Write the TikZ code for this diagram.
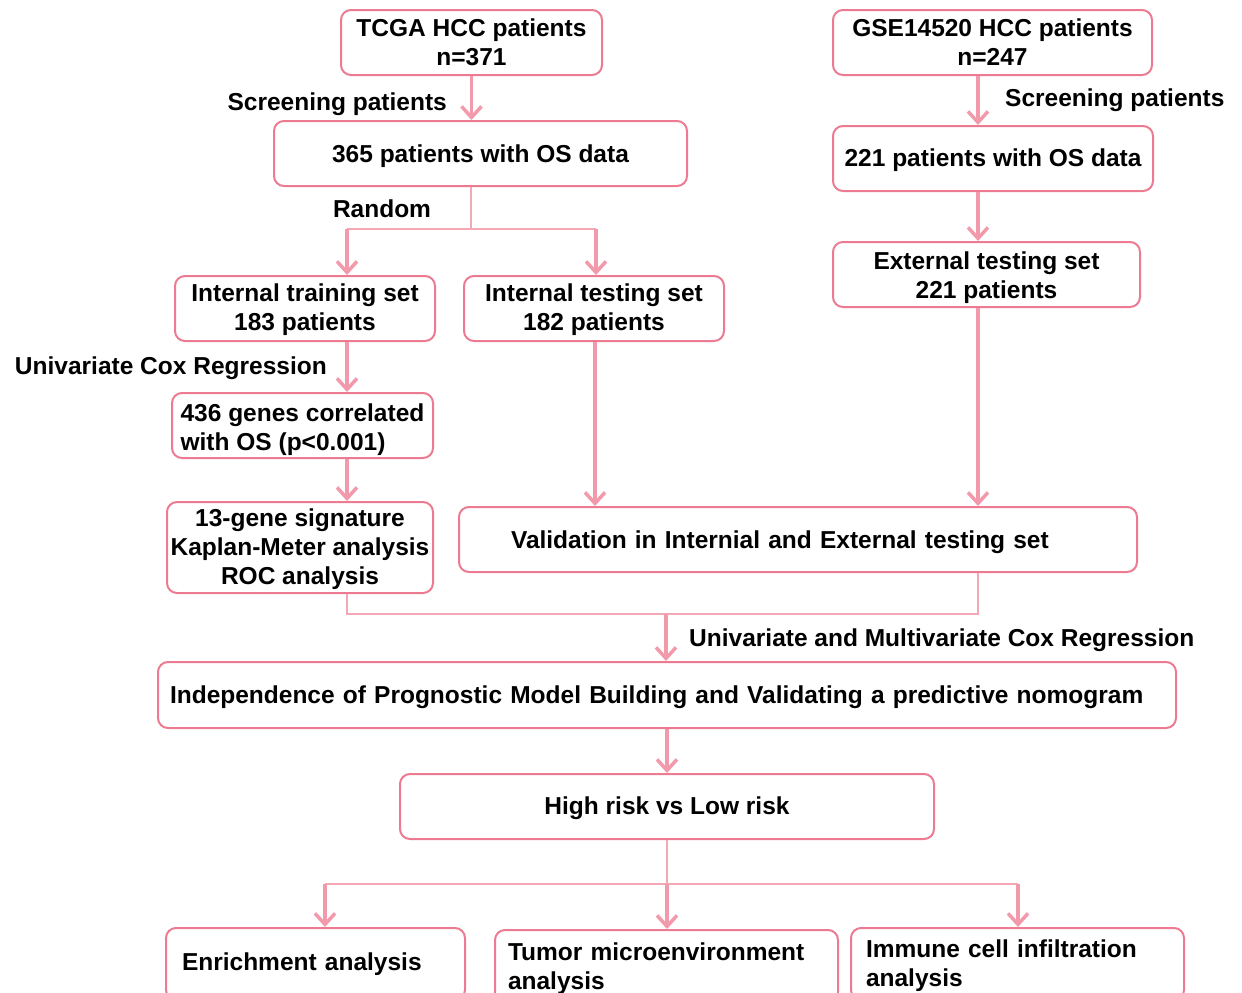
\documentclass[tikz,border=0pt]{standalone}
\usepackage{fontspec}
\setmainfont{Liberation Sans}
\usetikzlibrary{arrows.meta}
\definecolor{boxc}{HTML}{EC7A90}
\definecolor{arrc}{HTML}{F29AAB}
\definecolor{thinc}{HTML}{F4A8B6}
\newcommand\dn[1]{\rule{0pt}{\dimexpr 18pt+#1pt*2\relax}}
\tikzset{
  box/.style={draw=boxc, line width=2pt, rounded corners=10pt, inner sep=0pt,
    font=\fontsize{24.5}{29}\selectfont\bfseries, align=center},
  arr/.style={draw=arrc, line width=3.5pt,
    -{Straight Barb[length=11pt,width=20pt,line width=3.5pt]}},
  thin/.style={draw=thinc, line width=1.6pt},
  lbl/.style={font=\fontsize{24.5}{29}\selectfont\bfseries, inner sep=0pt}
}
\begin{document}
\begin{tikzpicture}[x=1pt,y=-1pt]
\useasboundingbox (0,0) rectangle (1242,993);
\clip (0,0) rectangle (1242,993);
% boxes
\node[box, minimum width=261pt, minimum height=65pt] (tcga) at (471.5,42.5) {TCGA HCC patients\\n=371};
\node[box, minimum width=319pt, minimum height=65pt] (gse) at (992.5,42.5) {GSE14520 HCC patients\\n=247};
\node[box, minimum width=413pt, minimum height=65pt] (os365) at (480.5,153.5) {\dn{3}365 patients with OS data};
\node[box, minimum width=320pt, minimum height=65pt] (os221) at (993,158.5) {\dn{2}221 patients with OS data};
\node[box, minimum width=307pt, minimum height=65pt] (ext) at (986.5,274.5) {\dn{3}External testing set\\221 patients};
\node[box, minimum width=260pt, minimum height=65pt] (train) at (305,308.5) {\dn{1.5}Internal training set\\183 patients};
\node[box, minimum width=260pt, minimum height=65pt] (itest) at (594,308.5) {\dn{1.5}Internal testing set\\182 patients};
\node[box, minimum width=261pt, minimum height=65pt, align=left] (genes) at (302.5,425.5) {\dn{4.5}436 genes correlated\\with OS (p<0.001)};
\node[box, minimum width=266pt, minimum height=91pt] (sig) at (300,547.5) {\dn{1.5}13-gene signature\\Kaplan-Meter analysis\\ROC analysis};
\node[box, minimum width=678pt, minimum height=65pt, text width=574pt, align=left, inner xsep=52pt] (valid) at (798,539.5) {\dn{3}Validation in Internial and External testing set};
\node[box, minimum width=1018pt, minimum height=66pt, text width=994pt, align=left, inner xsep=12pt] (indep) at (667,695) {\dn{2}Independence of Prognostic Model Building and Validating a predictive nomogram};
\node[box, minimum width=534pt, minimum height=65pt] (risk) at (667,806.5) {\dn{2}High risk vs Low risk};
\node[box, minimum width=299pt, minimum height=72pt, text width=267pt, align=left, inner xsep=16pt] (enr) at (315.5,964) {Enrichment analysis};
\node[box, minimum width=343pt, minimum height=72pt, text width=317pt, align=left, inner xsep=13pt] (tme) at (666.5,966) {\dn{3}Tumor microenvironment\\analysis};
\node[box, minimum width=333pt, minimum height=72pt, text width=303pt, align=left, inner xsep=15pt] (imm) at (1017.5,964) {\dn{2}Immune cell infiltration\\analysis};
% labels
\node[lbl, anchor=east] (l1) at (447,104) {Screening patients};
\node[lbl, anchor=west] (l2) at (1005,100) {Screening patients};
\node[lbl] (l3) at (382,209) {Random};
\node[lbl, anchor=east] (l4) at (327,368) {Univariate Cox Regression};
\node[lbl, anchor=west] (l5) at (689,640) {Univariate and Multivariate Cox Regression};
% coordinates
\coordinate (r0) at (471,229);
\coordinate (rl) at (347,229);
\coordinate (rr) at (596,229);
\coordinate (m1) at (347,614);
\coordinate (m2) at (978,614);
\coordinate (mc) at (666,614);
\coordinate (b0) at (667,884);
\coordinate (bl) at (325,884);
\coordinate (bm) at (667,884);
\coordinate (br) at (1018,884);
% connectors
\draw[arr] (tcga.south) -- (tcga.south |- os365.north);
\draw[arr] (978,0 |- gse.south) -- (978,0 |- os221.north);
\draw[thin] (os365.south -| r0) -- (r0);
\draw[thin] (rl) -- (rr);
\draw[arr] (rl) -- (rl |- train.north);
\draw[arr] (rr) -- (rr |- itest.north);
\draw[arr] (978,0 |- os221.south) -- (978,0 |- ext.north);
\draw[arr] (347,0 |- train.south) -- (347,0 |- genes.north);
\draw[arr] (347,0 |- genes.south) -- (347,0 |- sig.north);
\draw[arr] (595,0 |- itest.south) -- (595,0 |- valid.north);
\draw[arr] (978,0 |- ext.south) -- (978,0 |- valid.north);
\draw[thin] (347,0 |- sig.south) -- (m1) -- (m2) -- (978,0 |- valid.south);
\draw[arr] (mc) -- (mc |- indep.north);
\draw[arr] (indep.south) -- (risk.north);
\draw[thin] (risk.south) -- (b0);
\draw[thin] (bl) -- (br);
\draw[arr] (bl) -- (bl |- enr.north);
\draw[arr] (bm) -- (bm |- tme.north);
\draw[arr] (br) -- (br |- imm.north);
\end{tikzpicture}
\end{document}
